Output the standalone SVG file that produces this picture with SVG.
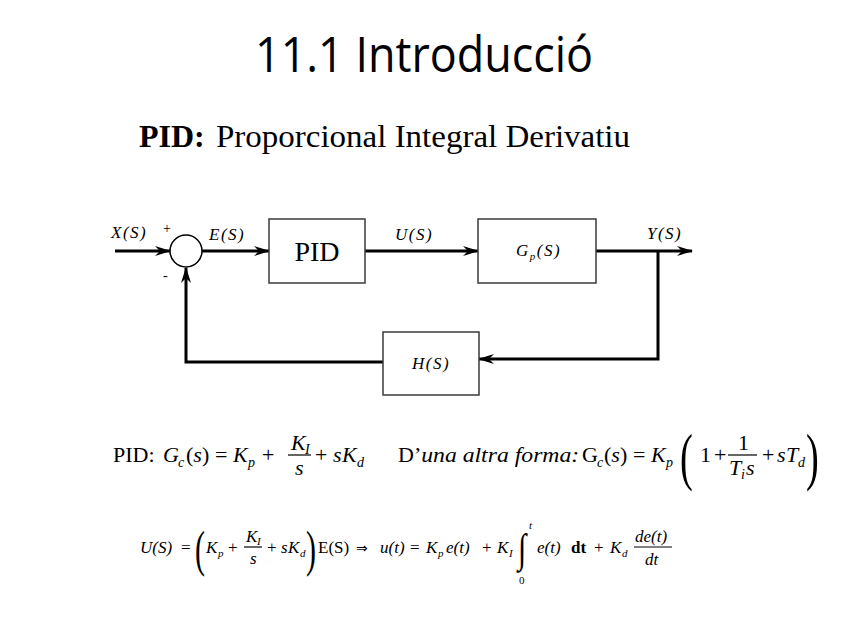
<svg xmlns="http://www.w3.org/2000/svg" width="848" height="636" viewBox="0 0 848 636">
<style>
text{font-family:"Liberation Serif","Times New Roman",serif;fill:#000}
.i{font-style:italic}
.b{font-weight:bold}
.sub{font-size:14px}
.r1{font-size:22px}
.r2{font-size:17px}
.r2 .sub{font-size:11px}
.lbl{font-size:17px;font-style:italic;letter-spacing:1.5px}
.ln{fill:none;stroke:#000;stroke-width:3}
.box{fill:#fff;stroke:#3a3a3a;stroke-width:1.5}
.fr{stroke:#000;stroke-width:1.2}
</style>
<defs>
<marker id="ah" viewBox="0 0 16 10" refX="15" refY="5" markerWidth="16" markerHeight="10" markerUnits="userSpaceOnUse" orient="auto">
<path d="M0,0 L16,5 L0,10 L5,5 z" fill="#000"/>
</marker>
</defs>
<rect width="848" height="636" fill="#fff"/>
<text x="424" y="72" text-anchor="middle" font-size="50" textLength="338" lengthAdjust="spacingAndGlyphs" style="font-family:'Open Sans','Liberation Sans',Arial,sans-serif">11.1 Introducció</text>
<text y="147" font-size="32"><tspan x="139" class="b">PID:</tspan><tspan x="216" textLength="414" lengthAdjust="spacingAndGlyphs">Proporcional Integral Derivatiu</tspan></text>

<g id="connectors">
<path class="ln" d="M115,251 L170,251" marker-end="url(#ah)"/>
<path class="ln" d="M202,251 L269,251" marker-end="url(#ah)"/>
<path class="ln" d="M365,251 L478,251" marker-end="url(#ah)"/>
<path class="ln" d="M596,251 L692,251" marker-end="url(#ah)"/>
<path class="ln" d="M658,251 L658,359 L479,359" marker-end="url(#ah)"/>
<path class="ln" d="M383,362 L186,362 L186,268" marker-end="url(#ah)"/>
</g>
<g id="sum">
<circle cx="186" cy="251" r="16" fill="#fff" stroke="#000" stroke-width="1.5"/>
<text x="163" y="233" font-size="14">+</text>
<text x="163" y="280" font-size="14">-</text>
</g>
<g id="pid">
<rect class="box" x="269" y="219" width="96" height="64"/>
<text x="317" y="261" font-size="28" text-anchor="middle">PID</text>
</g>
<g id="gp">
<rect class="box" x="478" y="219" width="118" height="64"/>
<text x="516" y="256" class="lbl">G<tspan font-size="11" dy="4">p</tspan><tspan dy="-4">(S)</tspan></text>
</g>
<g id="h">
<rect class="box" x="383" y="332" width="96" height="63"/>
<text x="431" y="369" class="lbl" text-anchor="middle">H(S)</text>
</g>
<g id="labels">
<text x="111" y="238" class="lbl">X(S)</text>
<text x="209" y="240" class="lbl">E(S)</text>
<text x="395" y="240" class="lbl">U(S)</text>
<text x="647" y="239" class="lbl">Y(S)</text>
</g>

<g id="eq1" class="r1">
<text x="113" y="462">PID:</text>
<text x="163" y="462" class="i">G</text>
<text x="178" y="467" class="i sub">c</text>
<text x="186" y="462">(<tspan class="i">s</tspan>)</text>
<text x="215" y="462">=</text>
<text x="233" y="462" class="i">K</text>
<text x="248" y="467" class="i sub">p</text>
<text x="262" y="462">+</text>
<text x="291" y="450" class="i">K</text>
<text x="305" y="454" class="i sub">I</text>
<line class="fr" x1="288" y1="455" x2="311" y2="455"/>
<text x="295" y="475" class="i">s</text>
<text x="315" y="462">+</text>
<text x="333" y="462" class="i">s</text>
<text x="342" y="462" class="i">K</text>
<text x="357" y="467" class="i sub">d</text>

<text x="398" y="462">D’<tspan class="i" textLength="158" lengthAdjust="spacingAndGlyphs">una altra forma:</tspan></text>
<text x="582" y="462">G</text>
<text x="597" y="467" class="i sub">c</text>
<text x="604" y="462">(<tspan class="i">s</tspan>)</text>
<text x="633" y="462">=</text>
<text x="651" y="462" class="i">K</text>
<text x="666" y="467" class="i sub">p</text>
<text transform="translate(680,478) scale(0.6,1)" font-size="64">(</text>
<text x="700" y="462">1</text>
<text x="714" y="462">+</text>
<text x="738" y="450">1</text>
<line class="fr" x1="728" y1="455" x2="757" y2="455"/>
<text x="729" y="475" class="i">T</text>
<text x="741" y="479" class="i sub">i</text>
<text x="746" y="475" class="i">s</text>
<text x="762" y="462">+</text>
<text x="777" y="462" class="i">s</text>
<text x="786" y="462" class="i">T</text>
<text x="798" y="467" class="i sub">d</text>
<text transform="translate(806,478) scale(0.6,1)" font-size="64">)</text>
</g>

<g id="eq2" class="r2">
<text x="140" y="553" class="i">U(S)</text>
<text x="181" y="553">=</text>
<text transform="translate(195,566) scale(0.6,1)" font-size="50">(</text>
<text x="206" y="553" class="i">K</text>
<text x="218" y="557" class="i sub">p</text>
<text x="228" y="553">+</text>
<text x="246" y="542" class="i">K</text>
<text x="257" y="545" class="i sub">I</text>
<line class="fr" x1="244" y1="547" x2="262" y2="547"/>
<text x="250" y="564" class="i">s</text>
<text x="267" y="553">+</text>
<text x="281" y="553" class="i">s</text>
<text x="288" y="553" class="i">K</text>
<text x="300" y="557" class="i sub">d</text>
<text transform="translate(306,566) scale(0.6,1)" font-size="50">)</text>
<text x="318" y="553">E(S)</text>
<text x="356" y="553" style="font-family:'DejaVu Sans',sans-serif" font-size="14">⇒</text>
<text x="380" y="553" class="i">u(t)</text>
<text x="410" y="553">=</text>
<text x="426" y="553" class="i">K</text>
<text x="438" y="557" class="i sub">p</text>
<text x="446" y="553" class="i">e(t)</text>
<text x="482" y="553">+</text>
<text x="497" y="553" class="i">K</text>
<text x="509" y="557" class="i sub">I</text>
<text transform="translate(518,562) scale(1,1.35)" font-size="30" class="i">∫</text>
<text x="529" y="529" class="i sub">t</text>
<text x="519" y="584" class="sub">0</text>
<text x="537" y="553" class="i">e(t)</text>
<text x="571" y="553" class="b">dt</text>
<text x="594" y="553">+</text>
<text x="610" y="553" class="i">K</text>
<text x="622" y="557" class="i sub">d</text>
<text x="635" y="542" class="i">de(t)</text>
<line class="fr" x1="634" y1="547" x2="672" y2="547"/>
<text x="645" y="565" class="i">dt</text>
</g>
</svg>
